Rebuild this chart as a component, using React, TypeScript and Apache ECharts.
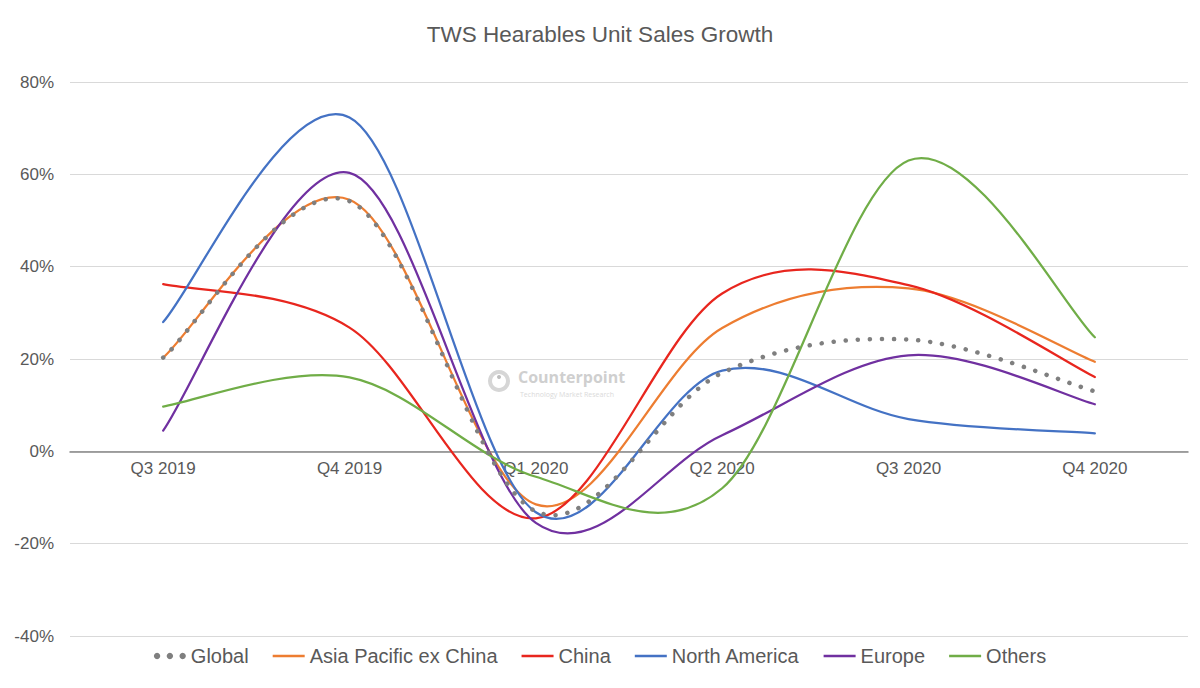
import React, { useEffect, useRef } from "react";
import * as echarts from "echarts";

const categories = ["Q3 2019", "Q4 2019", "Q1 2020", "Q2 2020", "Q3 2020", "Q4 2020"];
const seriesNames = ["Global", "Asia Pacific ex China", "China", "North America", "Europe", "Others"];
const globalVals = [20.3, 54.2, -13, 17, 24.2, 13];
const apacVals = [20.3, 54.5, -11.5, 26.7, 35.3, 19.4];
const chinaVals = [36.2, 26.8, -14.5, 34.2, 36, 16.1];
const northAmericaVals = [28, 72.3, -13.2, 17.5, 7, 3.9];
const europeVals = [4.5, 60.3, -15.5, 3.5, 20.8, 10.2];
const othersVals = [9.7, 16, -5.5, -8, 63, 24.7];
const yTicks = { min: -40, max: 80, interval: 20 };

const colors = ["#7f7f7f", "#ED7D31", "#E8261E", "#4472C4", "#7030A0", "#70AD47"];
const FONT = "'Liberation Sans', Arial, sans-serif";
const TXT = "#595959";

const LINE_ICON = "path://M0,0 L32,0 L32,2.6 L0,2.6 Z";
const DOT_ICON =
  "path://M2.5,0 A2.5,2.5 0 1 1 2.49,0 Z M12.5,0 A2.5,2.5 0 1 1 12.49,0 Z M22.5,0 A2.5,2.5 0 1 1 22.49,0 Z";

export default function App() {
  const ref = useRef<HTMLDivElement>(null);
  useEffect(() => {
    if (!ref.current) return;
    const chart = echarts.init(ref.current, undefined, { renderer: "svg" });
    const allVals = [globalVals, apacVals, chinaVals, northAmericaVals, europeVals, othersVals];

    const curve = (idx: number, extraStyle: any = {}, z = 2) => {
      const vals = allVals[idx];
      const color = colors[idx];
      return {
        name: seriesNames[idx],
        type: "custom",
        z,
        itemStyle: { color },
        data: vals.map((v, i) => [i, v]),
        encode: { x: 0, y: 1 },
        renderItem: (params: any, api: any) => {
          if (params.dataIndex !== 0) return null;
          const pts = vals.map((v, i) => api.coord([i, v]));
          let d = `M${pts[0][0]},${pts[0][1]}`;
          for (let i = 0; i < pts.length - 1; i++) {
            const p0 = pts[Math.max(i - 1, 0)];
            const p1 = pts[i];
            const p2 = pts[i + 1];
            const p3 = pts[Math.min(i + 2, pts.length - 1)];
            const c1x = p1[0] + (p2[0] - p0[0]) / 6;
            const c1y = p1[1] + (p2[1] - p0[1]) / 6;
            const c2x = p2[0] - (p3[0] - p1[0]) / 6;
            const c2y = p2[1] - (p3[1] - p1[1]) / 6;
            d += ` C${c1x},${c1y} ${c2x},${c2y} ${p2[0]},${p2[1]}`;
          }
          return {
            type: "path",
            shape: { pathData: d },
            style: { fill: "none", stroke: color, lineWidth: 2.25, lineCap: "round", lineJoin: "round", ...extraStyle },
          };
        },
      };
    };

    chart.setOption({
      animation: false,
      backgroundColor: "#ffffff",
      title: {
        text: "TWS Hearables Unit Sales Growth",
        left: "center",
        top: 18,
        textStyle: { color: TXT, fontSize: 22.5, fontWeight: "normal", fontFamily: FONT },
      },
      legend: {
        bottom: 17,
        left: "center",
        itemWidth: 32,
        itemHeight: 12,
        itemGap: 24,
        textStyle: { color: TXT, fontSize: 20, fontFamily: FONT },
        data: seriesNames.map((n, i) => ({ name: n, icon: i === 0 ? DOT_ICON : LINE_ICON })),
      },
      grid: { left: 70, right: 12, top: 82, bottom: 52, containLabel: false },
      xAxis: {
        type: "category",
        data: categories,
        boundaryGap: true,
        position: "bottom",
        offset: -184.67,
        axisLine: { onZero: false, lineStyle: { color: "#868686", width: 1.5 } },
        axisTick: { show: false },
        axisLabel: { color: TXT, fontSize: 17, fontFamily: FONT, margin: 9 },
        splitLine: { show: false },
      },
      yAxis: {
        type: "value",
        min: yTicks.min,
        max: yTicks.max,
        interval: yTicks.interval,
        axisLine: { show: false },
        axisTick: { show: false },
        axisLabel: { color: TXT, fontSize: 17, fontFamily: FONT, margin: 16, formatter: "{value}%" },
        splitLine: { lineStyle: { color: "#d9d9d9", width: 1 } },
      },
      graphic: [
        {
          type: "group",
          left: 488,
          top: 369,
          silent: true,
          children: [
            { type: "ring", shape: { cx: 12, cy: 12, r: 11, r0: 7 }, style: { fill: "#d6d6d6" } },
            { type: "circle", shape: { cx: 12, cy: 8, r: 2 }, style: { fill: "#bdbdbd" } },
            {
              type: "text",
              x: 31,
              y: 0,
              style: { text: "Counterpoint", fill: "#cfcfcf", font: "bold 16px 'Open Sans', sans-serif" },
            },
            {
              type: "text",
              x: 33,
              y: 22,
              style: { text: "Technology Market Research", fill: "#dadada", font: "7px 'Open Sans', sans-serif" },
            },
          ],
        },
      ],
      series: [
        curve(1),
        curve(2),
        curve(3),
        curve(4),
        curve(5),
        curve(0, { lineWidth: 4.5, lineDash: [0.1, 12], lineCap: "round" }, 5),
      ],
    });
    return () => chart.dispose();
  }, []);
  return <div ref={ref} style={{ position: "fixed", left: 0, top: 0, width: 1200, height: 688 }} />;
}
